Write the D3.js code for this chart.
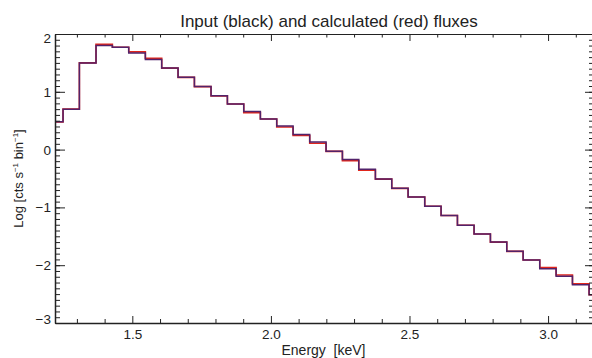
<!DOCTYPE html>
<html>
<head>
<meta charset="utf-8">
<script src="https://cdn.jsdelivr.net/npm/d3@7"></script>
<style>
  body { margin: 0; background: #fff; }
  svg { display: block; font-family: "Liberation Sans", Arial, sans-serif; }
  .axis text { font-size: 13.5px; fill: #222; }
  .axis line, .axis path { stroke: #222; }
</style>
</head>
<body>
<svg width="592" height="358"></svg>
<script>

// bin edges in keV (34 bins)
let binEdges = [1.191, 1.250, 1.309, 1.369, 1.428, 1.487, 1.547, 1.606, 1.665, 1.724,
  1.784, 1.843, 1.902, 1.962, 2.021, 2.080, 2.140, 2.199, 2.258, 2.317, 2.377,
  2.436, 2.495, 2.555, 2.614, 2.673, 2.733, 2.792, 2.851, 2.910, 2.970, 3.029,
  3.088, 3.148, 3.207];

// log flux per bin
let inputFlux = [0.48, 0.70, 1.50, 1.80, 1.77, 1.67, 1.56, 1.41, 1.25, 1.09, 0.93,
  0.79, 0.66, 0.53, 0.41, 0.26, 0.13, -0.03, -0.17, -0.34, -0.51, -0.67, -0.82,
  -0.98, -1.14, -1.31, -1.46, -1.60, -1.76, -1.91, -2.06, -2.19, -2.34, -2.51];
let calcFlux = [0.48, 0.70, 1.50, 1.82, 1.77, 1.69, 1.58, 1.41, 1.25, 1.09, 0.93,
  0.79, 0.64, 0.53, 0.39, 0.245, 0.11, -0.03, -0.19, -0.355, -0.51, -0.67, -0.82,
  -0.98, -1.14, -1.31, -1.46, -1.60, -1.76, -1.91, -2.04, -2.17, -2.32, -2.51];

let xMajor = [1.5, 2.0, 2.5, 3.0];
let yMajor = [-3, -2, -1, 0, 1, 2];

let margin = { l: 55, r: 592, t: 34, b: 323 };

let svg = d3.select("svg");

let x = d3.scaleLinear().domain([1.221, 3.1585]).range([margin.l, margin.r]);
let y = d3.scaleLinear().domain([-3, 2]).range([margin.b, margin.t]);

svg.append("clipPath")
  .attr("id", "plotClip")
  .append("rect")
  .attr("x", margin.l)
  .attr("y", margin.t)
  .attr("width", margin.r - margin.l)
  .attr("height", margin.b - margin.t)
  ;

// step curves
function stepPoints(vals) {
  let pts = vals.map((v, i) => [binEdges[i], v]);
  pts.push([binEdges[vals.length], vals[vals.length - 1]]);
  return pts;
}

let line = d3.line()
  .x(d => x(d[0]))
  .y(d => y(d[1]))
  .curve(d3.curveStepAfter)
  ;

svg.append("path")
  .attr("d", line(stepPoints(calcFlux)))
  .attr("clip-path", "url(#plotClip)")
  .attr("fill", "none")
  .attr("stroke", "#e0261c")
  .attr("stroke-width", 1.6)
  ;

svg.append("path")
  .attr("d", line(stepPoints(inputFlux)))
  .attr("clip-path", "url(#plotClip)")
  .attr("fill", "none")
  .attr("stroke", "#52226a")
  .attr("stroke-width", 1.5)
  ;

// axes
let xMinor = x.ticks(20).filter(v => !xMajor.some(m => Math.abs(m - v) < 1e-6));
let yMinor = y.ticks(50);

function addAxis(axis, tx, ty, cls) {
  return svg.append("g")
    .attr("class", "axis " + (cls || ""))
    .attr("transform", `translate(${tx},${ty})`)
    .call(axis);
}

// bottom
addAxis(d3.axisBottom(x).tickValues(xMajor).tickFormat(d3.format(".1f"))
  .tickSizeInner(-7).tickSizeOuter(0).tickPadding(6), 0, margin.b)
  .call(g => g.select(".domain").attr("stroke-width", 1.5));
addAxis(d3.axisBottom(x).tickValues(xMinor).tickFormat("").tickSizeInner(-4).tickSizeOuter(0), 0, margin.b)
  .call(g => g.select(".domain").remove());

// top
addAxis(d3.axisTop(x).tickValues(xMajor).tickFormat("").tickSizeInner(-7).tickSizeOuter(0), 0, margin.t)
  .call(g => g.select(".domain").attr("stroke", "#555"));
addAxis(d3.axisTop(x).tickValues(xMinor).tickFormat("").tickSizeInner(-3.5).tickSizeOuter(0), 0, margin.t)
  .call(g => g.select(".domain").remove());

// left
addAxis(d3.axisLeft(y).tickValues(yMajor).tickFormat(d3.format("d"))
  .tickSizeInner(-10).tickSizeOuter(0).tickPadding(4), margin.l, 0)
  .call(g => g.select(".domain").attr("stroke-width", 1.5))
  .call(g => g.selectAll(".tick text")
    .attr("dy", d => d == 2 ? "0.62em" : d == -3 ? "0" : "0.34em"));
addAxis(d3.axisLeft(y).tickValues(yMinor).tickFormat("").tickSizeInner(-5).tickSizeOuter(0), margin.l, 0)
  .call(g => g.select(".domain").remove());

// right
addAxis(d3.axisRight(y).tickValues(yMajor).tickFormat("").tickSizeInner(-7).tickSizeOuter(0), margin.r, 0)
  .call(g => g.select(".domain").remove());
addAxis(d3.axisRight(y).tickValues(yMinor).tickFormat("").tickSizeInner(-3).tickSizeOuter(0), margin.r, 0)
  .call(g => g.select(".domain").remove())
  .call(g => g.selectAll("line").attr("stroke", "#666"));

// labels
svg.append("text")
  .attr("x", 329)
  .attr("y", 27)
  .attr("text-anchor", "middle")
  .attr("font-size", 17)
  .attr("fill", "#222")
  .text("Input (black) and calculated (red) fluxes")
  ;

svg.append("text")
  .attr("x", (margin.l + margin.r) / 2)
  .attr("y", 355)
  .attr("text-anchor", "middle")
  .attr("font-size", 14)
  .attr("fill", "#222")
  .style("white-space", "pre")
  .text("Energy  [keV]")
  ;

let ylab = svg.append("text")
  .attr("transform", `translate(23,${(margin.t + margin.b) / 2}) rotate(-90)`)
  .attr("text-anchor", "middle")
  .attr("font-size", 13)
  .attr("fill", "#222")
  ;
ylab.append("tspan").text("Log [cts s");
ylab.append("tspan").attr("font-size", 8).attr("dy", -5).text("−1");
ylab.append("tspan").attr("dy", 5).text(" bin");
ylab.append("tspan").attr("font-size", 8).attr("dy", -5).text("−1");
ylab.append("tspan").attr("dy", 5).text("]");

</script>
</body>
</html>
